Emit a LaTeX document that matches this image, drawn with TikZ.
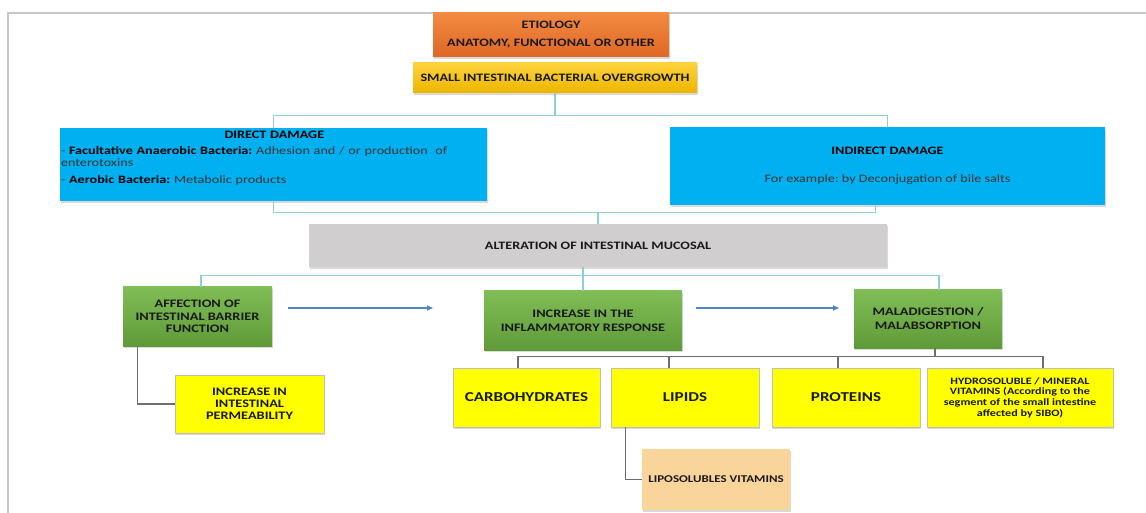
\documentclass[tikz,border=0pt]{standalone}
\usepackage{fontspec}
\setmainfont{Carlito}[FakeStretch=1.25]
\usetikzlibrary{arrows.meta,positioning,shadows}
\frenchspacing
\definecolor{etioltop}{HTML}{F28A42}
\definecolor{etiolbot}{HTML}{DE6724}
\definecolor{sibotop}{HTML}{FCD23C}
\definecolor{sibobot}{HTML}{EDB500}
\definecolor{damage}{HTML}{00B0F0}
\definecolor{mucosa}{HTML}{D0CECE}
\definecolor{greentop}{HTML}{80BD56}
\definecolor{greenbot}{HTML}{5F9A38}
\definecolor{nutrient}{HTML}{FFFF00}
\definecolor{vitamin}{HTML}{F9D49B}
\definecolor{linkcyan}{HTML}{8BCFDB}
\definecolor{treegray}{HTML}{6E6E6E}
\definecolor{flowblue}{HTML}{4F86C6}

\begin{document}
\begin{tikzpicture}[x=0.75pt, y=-0.75pt,
    box/.style={inner sep=0pt, align=center, text=black!90, drop shadow={shadow xshift=1pt, shadow yshift=-1.2pt, opacity=0.3}},
    etiobox/.style={box, top color=etioltop, bottom color=etiolbot, font=\bfseries\fontsize{8.5}{10.5}\selectfont},
    sibobox/.style={box, top color=sibotop, bottom color=sibobot, font=\bfseries\fontsize{8.5}{10.5}\selectfont},
    damagebox/.style={box, fill=damage},
    mucosabox/.style={box, fill=mucosa, font=\bfseries\fontsize{8.5}{10.5}\selectfont},
    effectbox/.style={box, top color=greentop, bottom color=greenbot, font=\bfseries\fontsize{8.6}{10.5}\selectfont},
    nutrientbox/.style={box, fill=nutrient, draw=black!25, line width=0.6pt, font=\bfseries\fontsize{8.6}{9}\selectfont},
    link/.style={draw=linkcyan, line width=0.9pt},
    tree/.style={draw=treegray, line width=1.1pt},
    flow/.style={draw=flowblue, line width=1.1pt, -{Latex[length=5pt,width=4.5pt]}}
]
    \useasboundingbox (0,0) rectangle (1146,513);
    \draw[black!22, line width=0.8pt] (8,513) -- (8,13) -- (1146,13);

    \node[etiobox, minimum width=177pt, minimum height=33pt] (etio) at (551,35) {ETIOLOGY\\[3pt]ANATOMY, FUNCTIONAL OR OTHER};
    \node[sibobox, minimum width=213pt, minimum height=22.5pt] (sibo) at (555,78) {SMALL INTESTINAL BACTERIAL OVERGROWTH};

    \node[damagebox, minimum width=320.25pt, minimum height=54.75pt] (direct) at (273.5,164.5) {};
    \node[anchor=north west, inner sep=0pt, text width=320pt, align=left, text=black!80, font=\fontsize{8.5}{9}\selectfont] (directtxt) at ([shift={(1,3)}]direct.north west)
        {\makebox[\linewidth]{\textbf{\color{black}DIRECT DAMAGE}}\\[3pt]
         - \textbf{\color{black}Facultative Anaerobic Bacteria:} Adhesion and / or production \ of\\
         enterotoxins\\[3.75pt]
         - \textbf{\color{black}Aerobic Bacteria:} Metabolic products};
    \node[damagebox, minimum width=326.25pt, minimum height=58.5pt, text=black!80, font=\fontsize{8.5}{10}\selectfont] (indirect) at (887.5,166)
        {\textbf{\color{black}INDIRECT DAMAGE}\\[11pt]For example: by Deconjugation of bile salts};

    \node[mucosabox, minimum width=433.5pt, minimum height=32.25pt] (alter) at (598,245.5) {ALTERATION OF INTESTINAL MUCOSAL};

    \node[effectbox, minimum width=111.75pt, minimum height=44.25pt, font=\bfseries\fontsize{8.6}{9.4}\selectfont] (affect) at (197.5,316.5) {AFFECTION OF\\INTESTINAL BARRIER\\FUNCTION};
    \node[effectbox, minimum width=148.5pt, minimum height=44.25pt] (inflam) at (583,320.5) {INCREASE IN THE\\INFLAMMATORY RESPONSE};
    \node[effectbox, minimum width=111pt, minimum height=43.5pt] (malad) at (928,319) {MALADIGESTION /\\MALABSORPTION};

    \node[nutrientbox, minimum width=111.75pt, minimum height=43.5pt] (perm) at (249.5,404) {INCREASE IN\\INTESTINAL\\PERMEABILITY};
    \node[nutrientbox, minimum width=110.25pt, minimum height=44.25pt, font=\bfseries\fontsize{10.2}{12}\selectfont] (carbo) at (526.5,397.5) {CARBOHYDRATES};
    \node[nutrientbox, minimum width=111pt, minimum height=44.25pt, font=\bfseries\fontsize{10.2}{12}\selectfont] (lipids) at (685,397.5) {LIPIDS};
    \node[nutrientbox, minimum width=111pt, minimum height=44.25pt, font=\bfseries\fontsize{10.2}{12}\selectfont] (prot) at (846,397.5) {PROTEINS};
    \node[nutrientbox, minimum width=139.5pt, minimum height=44.25pt, font=\bfseries\fontsize{7.3}{8}\selectfont] (hydro) at (1020,397.5) {HYDROSOLUBLE / MINERAL\\VITAMINS (According to the\\segment of the small intestine\\affected by SIBO)};
    \node[box, fill=vitamin, minimum width=111pt, minimum height=45.75pt, font=\bfseries\fontsize{7.8}{9}\selectfont] (lipo) at (716,479.5) {LIPOSOLUBLES VITAMINS};

    \draw[link] (sibo.south) -- ++(0,22) -| (direct.north);
    \draw[link] (sibo.south) -- ++(0,22) -| (indirect.north);
    \draw[link] (direct.south) -- ++(0,11) -| (alter.north);
    \draw[link] ([shift={(-12,0)}]indirect.south) -- ++(0,7) -| (alter.north);

    \draw[link] (alter.south -| inflam.north) -- (inflam.north);
    \draw[link] ([shift={(3.5,0)}]affect.north) -- ++(0,-11) -| ([shift={(11,0)}]malad.north);

    \draw[flow] ([shift={(16,-8.5)}]affect.east) -- ([shift={(-50,-12.5)}]inflam.west);
    \draw[flow] ([shift={(14,-12.5)}]inflam.east) -- ([shift={(-14,-11)}]malad.west);

    \draw[tree] ([shift={(7,0)}]malad.south) -- ++(0,8) coordinate (bus);
    \draw[tree] ([shift={(-8.5,0)}]carbo.north) |- (bus);
    \draw[tree] ([shift={(-16,0)}]lipids.north) |- (bus);
    \draw[tree] ([shift={(-8,0)}]prot.north) |- (bus);
    \draw[tree] ([shift={(23,0)}]hydro.north) |- (bus);

    \draw[tree] ([shift={(15,0)}]affect.south west) |- (perm.west);
    \draw[tree] ([shift={(15,0)}]lipids.south west) |- (lipo.west);
\end{tikzpicture}
\end{document}
